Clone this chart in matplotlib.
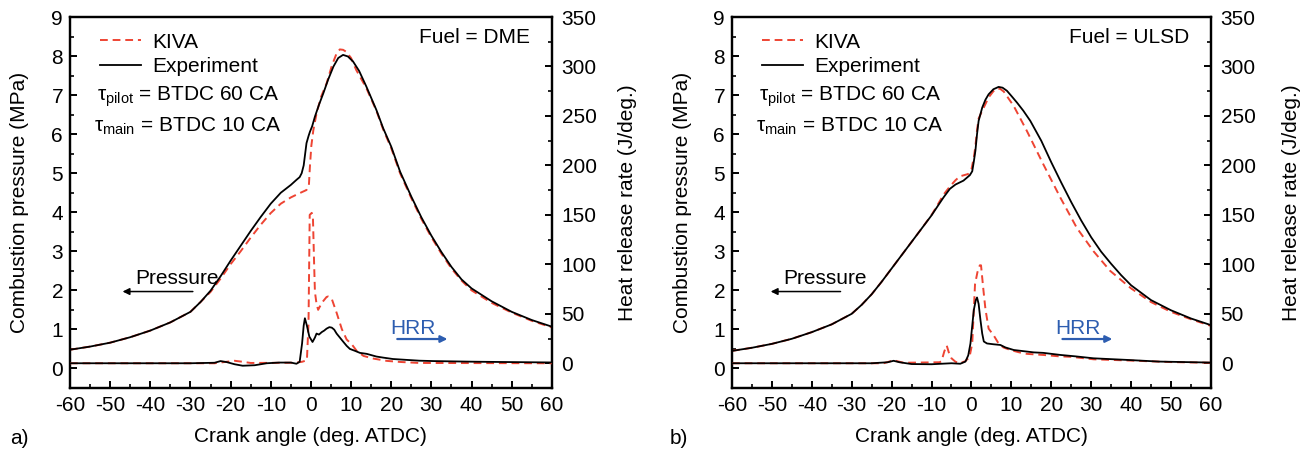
import numpy as np
import matplotlib
matplotlib.use("Agg")
import matplotlib.pyplot as plt
from matplotlib.ticker import MultipleLocator

# ==================================
# 数据
# ==================================

# a) DME
dme_exp_p_x = [-60, -55, -50, -45, -40, -35, -30, -27.5, -25, -22.5, -20, -17.5, -15, -12.5, -10, -7.5,
               -5, -3.6, -2.8, -2.3, -1.8, -1.1, -0.6, -0.25, 0.3, 1.0, 2.0, 3.1, 4.3, 5.6, 6.8, 8.0,
               9.2, 10.5, 12, 13.8, 16.3, 18, 20, 22.2, 25, 27.5, 30, 32.5, 35, 37.5, 40, 45, 50, 55, 60]
dme_exp_p = [0.48, 0.56, 0.66, 0.8, 0.97, 1.18, 1.45, 1.7, 1.99, 2.36, 2.76, 3.14, 3.52, 3.88, 4.22, 4.5,
             4.7, 4.83, 4.9, 5.0, 5.2, 5.77, 5.95, 6.06, 6.2, 6.45, 6.75, 7.05, 7.4, 7.73, 7.95, 8.03,
             7.99, 7.86, 7.62, 7.22, 6.62, 6.15, 5.68, 5.04, 4.4, 3.87, 3.4, 2.98, 2.6, 2.28, 2.05, 1.72, 1.45,
             1.24, 1.07]
dme_kiva_p_x = [-60, -55, -50, -45, -40, -35, -30, -27.5, -25, -22.5, -20, -17.5, -15, -12.5, -10, -7.5,
                -5, -3, -1.1, -0.5, -0.25, 0.1, 0.6, 1.4, 2.5, 3.9, 5.2, 6.4, 7.2, 8.0, 8.8, 10,
                11.3, 13.8, 16.3, 18, 20, 22.2, 25, 27.5, 30, 32.5, 35, 37.5, 40, 45, 50, 55, 60]
dme_kiva_p = [0.48, 0.56, 0.66, 0.8, 0.97, 1.18, 1.45, 1.7, 1.96, 2.3, 2.67, 3.0, 3.35, 3.68, 3.98, 4.22,
              4.38, 4.48, 4.57, 4.7, 5.17, 5.7, 6.1, 6.53, 6.95, 7.3, 7.75, 8.07, 8.17, 8.16, 8.11,
              7.95, 7.64, 7.18, 6.6, 6.12, 5.64, 5.0, 4.36, 3.83, 3.36, 2.94, 2.56, 2.25, 2.0, 1.68, 1.43, 1.22,
              1.05]
dme_exp_hrr_x = [-60, -30, -24, -22.5, -21, -19, -17, -14, -11, -8, -5, -3.6, -2.8, -2.2, -1.8, -1.5, -1.0,
                 -0.4, 0.4, 1.0, 1.4, 2.0, 2.7, 3.3, 3.9, 4.6, 5.2, 5.8, 6.4, 7.2, 8.0, 8.9, 9.7, 11, 12.2, 13.9,
                 16.3, 18, 20.4, 22.3, 27, 30.6, 40, 47, 60]
dme_exp_hrr = [0, 0, 0.5, 2.2, 1.2, -1, -2.5, -2, 0, 0.7, 0.7, -0.5, 1.5, 20, 38, 45.5, 38, 27, 21.5, 26, 30,
               29, 31.5, 33, 35, 36.5, 36, 34, 30, 26, 22, 17.6, 14.5, 12.5, 10.5, 9.5, 6.8, 5.7, 4.3, 3.8, 2.6,
               2.2, 1.6, 1.3, 0.8]
dme_kiva_hrr_x = [-60, -24, -21, -19, -17, -15, -5, -3.6, -2.2, -1.0, -0.6, -0.3, 0.2, 0.5, 0.8, 1.0, 1.4, 1.8,
                  2.7, 3.9, 4.3, 5.2, 6.4, 7.7, 8.9, 10.2, 11.4, 13.1, 15.6, 18.9, 22.3, 27, 60]
dme_kiva_hrr = [0, 0, 1.5, 2.5, 1.5, 0.3, 0.5, 0.7, 1.5, 3, 40, 150, 152, 148, 100, 72, 60, 54, 61, 67, 67.5,
                65, 51, 34.5, 24, 19, 12.5, 7.4, 4.7, 2.4, 1.3, 0.3, 0]

# b) ULSD
ulsd_exp_p_x = [-60, -55, -50, -45, -40, -35, -30, -27.5, -25, -22.5, -20, -17.5, -15, -12.5, -10, -8.7, -7,
                -5.4, -4, -2, -0.4, 0.2, 0.6, 1.0, 1.4, 1.8, 2.7, 3.5, 4.3, 5.5, 6.8, 7.8, 8.9, 10, 11.4, 13,
                14.75, 17.5, 20, 22.5, 25, 27.5, 30, 32.5, 35, 37.5, 40, 45, 50, 55, 60]
ulsd_exp_p = [0.45, 0.53, 0.63, 0.76, 0.93, 1.13, 1.4, 1.63, 1.9, 2.22, 2.56, 2.9, 3.24, 3.58, 3.92, 4.12, 4.38,
              4.6, 4.71, 4.81, 4.95, 5.05, 5.3, 5.58, 6.0, 6.34, 6.68, 6.88, 7.02, 7.15, 7.21, 7.19, 7.11, 6.98,
              6.81, 6.6, 6.34, 5.83, 5.28, 4.76, 4.26, 3.79, 3.36, 2.99, 2.68, 2.39, 2.13, 1.75, 1.49, 1.28,
              1.11]
ulsd_kiva_p_x = [-60, -55, -50, -45, -40, -35, -30, -27.5, -25, -22.5, -20, -17.5, -15, -12.5, -10, -8.7, -7,
                 -5.4, -4, -2.9, -0.8, 0, 0.6, 1.0, 1.4, 1.8, 2.7, 4.3, 5.5, 6.4, 7.2, 8.1, 10.6, 13.9, 18,
                 22.25, 26.4, 30.6, 34.75, 40, 45, 50, 55, 60]
ulsd_kiva_p = [0.45, 0.53, 0.63, 0.76, 0.93, 1.13, 1.4, 1.63, 1.9, 2.22, 2.56, 2.9, 3.24, 3.58, 3.93, 4.15,
               4.45, 4.66, 4.82, 4.92, 4.98, 5.1, 5.4, 5.7, 6.1, 6.4, 6.6, 6.94, 7.1, 7.17, 7.16, 7.09, 6.72, 6.08,
               5.23, 4.38, 3.6, 3.0, 2.5, 2.05, 1.7, 1.45, 1.26, 1.09]
ulsd_exp_hrr_x = [-60, -25, -21, -19.5, -18, -15, -10, -5, -2.8, -1.5, -0.8, -0.25, 0.6, 1.1, 1.4, 1.8, 2.25,
                  2.7, 3.1, 3.9, 5.5, 7.25, 8.5, 10.6, 15.6, 18, 22.3, 26, 30.6, 38.9, 47, 60]
ulsd_exp_hrr = [0, 0, 1, 2.5, 1, -0.8, -1, 0, -0.5, 1.7, 8, 20, 54, 64, 66.5, 60, 44, 30, 22, 20, 19.2, 18.5,
                16, 13.4, 11, 10.5, 8.4, 7, 5, 3.4, 1.7, 0.7]
ulsd_kiva_hrr_x = [-60, -22, -19.5, -17, -8, -7.5, -6.8, -6.2, -5.6, -5, -4, -2.9, -1.6, -0.5, 0.2, 0.9, 1.5,
                   2.1, 2.4, 3.0, 3.5, 4.3, 5.6, 6.8, 8, 9.75, 12, 13.9, 18, 22, 25, 30.6, 40, 50, 60]
ulsd_kiva_hrr = [0, 0, 3, 0.5, 1, 2, 12, 18, 10, 5, 1.5, 0, 2, 6, 20, 80, 92, 99, 99, 74, 55, 35, 28, 20, 16,
                 13.4, 11, 9.5, 8.4, 7, 6.5, 4, 2.7, 1.2, 0.5]

# ==================================
# 样式
# ==================================

RED = "#EE4433"
BLUE = "#2D5DB0"
FS = 15

plt.rcParams.update({
    "font.family": ["Liberation Sans", "DejaVu Sans"],
    "font.size": FS,
    "axes.unicode_minus": False,
    "mathtext.fontset": "custom",
    "mathtext.rm": "Liberation Sans",
    "mathtext.it": "Liberation Sans:italic",
    "axes.linewidth": 1.6,
    "xtick.direction": "in",
    "ytick.direction": "in",
    "xtick.major.size": 5,
    "ytick.major.size": 5,
    "xtick.minor.size": 3,
    "ytick.minor.size": 3,
    "xtick.major.width": 1.4,
    "ytick.major.width": 1.4,
    "xtick.minor.width": 1.2,
    "ytick.minor.width": 1.2,
})


def draw_panel(ax, d, fuel, hrr_text_x, press_text_x, ylab_x, y2lab_x):
    exp_px, exp_p, kiva_px, kiva_p, exp_hx, exp_h, kiva_hx, kiva_h = d
    ax2 = ax.twinx()

    ax.plot(kiva_px, kiva_p, color=RED, lw=1.4, dashes=(4, 2.5), label="KIVA", zorder=3)
    ax.plot(exp_px, exp_p, color="black", lw=1.3, label="Experiment", zorder=4)
    ax2.plot(kiva_hx, kiva_h, color=RED, lw=1.4, dashes=(4, 2.5), zorder=3)
    ax2.plot(exp_hx, exp_h, color="black", lw=1.3, zorder=4)

    ax.set_xlim(-60, 60)
    ax.set_ylim(-0.5, 9)
    ax2.set_ylim(-25, 350)
    ax.xaxis.set_major_locator(MultipleLocator(10))
    ax.xaxis.set_minor_locator(MultipleLocator(5))
    ax.yaxis.set_minor_locator(MultipleLocator(0.5))
    ax2.yaxis.set_minor_locator(MultipleLocator(25))
    ax.set_yticks(range(0, 10))
    ax2.set_yticks(range(0, 351, 50))
    ax.tick_params(axis="x", which="both", top=False, pad=6)
    ax.tick_params(axis="y", which="both", right=False, pad=5)
    ax2.tick_params(axis="y", which="both", pad=7)

    ax.set_xlabel("Crank angle (deg. ATDC)")
    ax.xaxis.set_label_coords(0.5, -0.105)
    ax.set_ylabel("Combustion pressure (MPa)")
    ax.yaxis.set_label_coords(ylab_x, 0.5)
    ax2.set_ylabel("Heat release rate (J/deg.)")
    ax2.yaxis.set_label_coords(y2lab_x, 0.5)

    leg = ax.legend(loc="upper left", bbox_to_anchor=(0.062, 0.958), frameon=False,
                    handlelength=2.0, handletextpad=0.5, labelspacing=0.25, borderpad=0,
                    borderaxespad=0, fontsize=FS)
    leg.set_zorder(5)

    ax.text(-53.3, 6.86, "τ$_{\\mathrm{pilot}}$ = BTDC 60 CA", ha="left", va="baseline")
    ax.text(-54, 6.06, "τ$_{\\mathrm{main}}$ = BTDC 10 CA", ha="left", va="baseline")
    ax.text(54.5, 8.33, fuel, ha="right", va="baseline")

    ax.text(press_text_x, 2.31, "Pressure", ha="center", va="center")
    ax.annotate("", xy=(press_text_x - 13.5, 1.97), xytext=(press_text_x + 4, 1.97),
                arrowprops=dict(arrowstyle="-|>", color="black", lw=1.1, mutation_scale=10,
                                shrinkA=0, shrinkB=0))
    ax2.text(hrr_text_x, 35, "HRR", ha="center", va="center", color=BLUE)
    ax2.annotate("", xy=(hrr_text_x + 8.5, 24.5), xytext=(hrr_text_x - 4, 24.5),
                 arrowprops=dict(arrowstyle="-|>", color=BLUE, lw=1.6, mutation_scale=10,
                                 shrinkA=0, shrinkB=0))
    return ax2


fig = plt.figure(figsize=(13.05, 4.5), dpi=100)
ax_a = fig.add_axes([0.0536, 0.1378, 0.3693, 0.8244])
ax_b = fig.add_axes([0.5609, 0.1378, 0.3670, 0.8244])

draw_panel(ax_a, (dme_exp_p_x, dme_exp_p, dme_kiva_p_x, dme_kiva_p,
                  dme_exp_hrr_x, dme_exp_hrr, dme_kiva_hrr_x, dme_kiva_hrr),
           "Fuel = DME", 25.5, -33.4, -0.085, 1.137)
draw_panel(ax_b, (ulsd_exp_p_x, ulsd_exp_p, ulsd_kiva_p_x, ulsd_kiva_p,
                  ulsd_exp_hrr_x, ulsd_exp_hrr, ulsd_kiva_hrr_x, ulsd_kiva_hrr),
           "Fuel = ULSD", 26.8, -36.8, -0.084, 1.148)

fig.text(0.0145, 0.025, "a)", ha="center", va="center")
fig.text(0.520, 0.025, "b)", ha="center", va="center")

fig.savefig("out.png", dpi=100)
